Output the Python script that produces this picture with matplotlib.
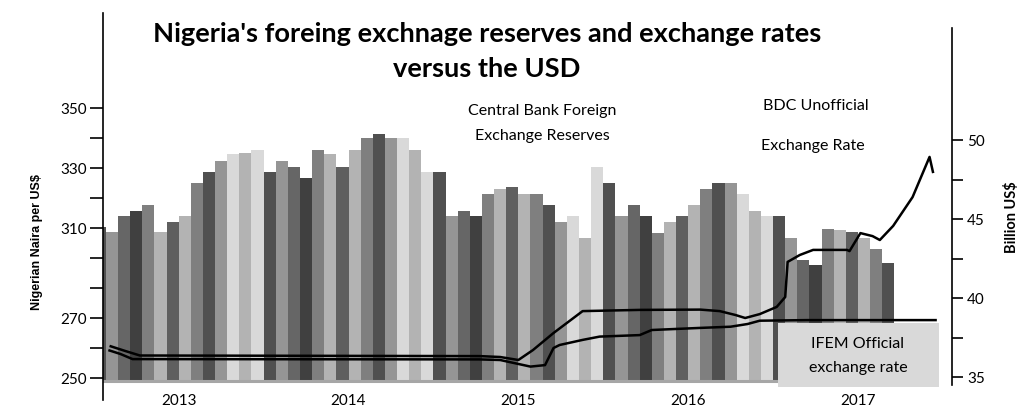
import matplotlib
matplotlib.use("Agg")
import matplotlib.pyplot as plt
from matplotlib.patches import Rectangle

# ---------------- data ----------------
years = ["2013", "2014", "2015", "2016", "2017"]
year_pos = [6.5, 20.5, 34.5, 48.5, 62.5]

# Central Bank foreign exchange reserves (billion US$), one bar per period
reserves = [44.5, 44.2, 45.2, 45.5, 45.9, 44.2, 44.8, 45.2, 47.3, 48.0, 48.7, 49.1, 49.2, 49.4,
            48.0, 48.7, 48.3, 47.6, 49.4, 49.1, 48.3, 49.4, 50.1, 50.4, 50.1, 50.1, 49.4, 48.0,
            48.0, 45.2, 45.5, 45.2, 46.6, 46.9, 47.0, 46.6, 46.6, 45.9, 44.8, 45.2, 43.8, 48.3,
            47.3, 45.2, 45.9, 45.2, 44.1, 44.8, 45.2, 45.9, 46.9, 47.3, 47.3, 46.6, 45.5, 45.2,
            45.2, 43.8, 42.4, 42.1, 44.4, 44.3, 44.2, 43.8, 43.1, 42.2]
bar_colors = ["#505050", "#959595", "#666666", "#404040", "#7f7f7f", "#b3b3b3", "#5f5f5f",
              "#b3b3b3", "#7f7f7f", "#505050", "#959595", "#d9d9d9", "#b3b3b3", "#d9d9d9"]

# BDC unofficial exchange rate (Naira per US$)
bdc_t = [0.8, 2.1, 3.3, 31.3, 33.0, 34.5, 35.7, 37.4, 39.8, 44.5, 49.5, 51.1, 52.4, 53.2, 54.4,
         55.8, 56.5, 56.7, 57.7, 58.8, 61.6, 61.8, 62.7, 63.7, 64.3, 65.4, 67.0, 68.4, 68.7]
bdc_v = [260.7, 259.0, 257.5, 257.3, 257.0, 256.0, 259.3, 265.0, 272.3, 272.7, 272.8, 272.3,
         271.0, 270.0, 271.3, 273.7, 277.0, 288.7, 291.0, 292.7, 292.7, 292.3, 298.3, 297.3,
         296.0, 300.7, 310.3, 323.7, 318.3]

# IFEM official exchange rate (Naira per US$)
ifem_t = [0.7, 1.7, 2.7, 31.3, 33.0, 35.5, 36.7, 37.4, 37.9, 39.8, 41.2, 44.5, 45.5, 49.5,
          52.0, 53.4, 54.4, 58.3, 69.0]
ifem_v = [259.3, 258.0, 256.3, 256.2, 256.0, 253.8, 254.3, 260.0, 261.0, 262.7, 263.8, 264.3,
          266.0, 266.7, 267.1, 268.0, 269.1, 269.3, 269.3]

left_ticks = [250, 260, 270, 280, 290, 300, 310, 320, 330, 340]
left_labels = ["250", "", "270", "", "", "310", "", "330", "", "350"]
right_major = [35, 40, 45, 50]
right_minor = [37.5, 42.5, 47.5]

FONT = "Lato"
plt.rcParams["font.family"] = [FONT, "DejaVu Sans"]

W, H = 1024, 415
fig = plt.figure(figsize=(W / 100, H / 100), dpi=100)
ax_l, ax_r, ax_t, ax_b = 103, 952, 13, 405
ax = fig.add_axes([ax_l / W, 1 - ax_b / H, (ax_r - ax_l) / W, (ax_b - ax_t) / H])
ax2 = ax.twinx()

# left axis (Naira)
ax.set_xlim(0.26, 70.25)
ax.set_ylim(241.0, 371.67)
# right axis (billion US$)
ax2.set_ylim(33.23, 58.04)

# bars
base = 34.81
x = list(range(len(reserves)))
cols = [bar_colors[i % len(bar_colors)] for i in x]
ax2.bar(x, [r - base for r in reserves], bottom=base, width=1.0, color=cols,
        linewidth=0, antialiased=False, zorder=2)

# layering: left axes (lines, box) above bars
ax.set_zorder(ax2.get_zorder() + 1)
ax.patch.set_visible(False)

# grey base line
ax.axhline(249.1, xmin=0, xmax=0.8, color="#a6a6a6", lw=2.2, zorder=1)

# lines
ax.plot(bdc_t, bdc_v, color="black", lw=1.8, solid_capstyle="butt", zorder=4)
ax.plot(ifem_t, ifem_v, color="black", lw=1.8, solid_capstyle="butt", zorder=4)

# IFEM box
ax.add_patch(Rectangle((55.9, 247.0), 13.25, 21.3, facecolor="#d9d9d9", edgecolor="none", zorder=3))
ax.text(62.5, 260.0, "IFEM Official", ha="center", va="baseline", fontsize=11.5, zorder=5)
ax.text(62.5, 252.0, "exchange rate", ha="center", va="baseline", fontsize=11.5, zorder=5)

# spines
for s in ["top", "bottom", "right"]:
    ax.spines[s].set_visible(False)
for s in ["top", "bottom", "left"]:
    ax2.spines[s].set_visible(False)
ax.spines["left"].set_bounds(242.7, 371.67)
ax.spines["left"].set_linewidth(1.2)
ax2.spines["right"].set_bounds(34.49, 57.09)
ax2.spines["right"].set_linewidth(1.2)

ax.set_yticks(left_ticks)
ax.set_yticklabels(left_labels)
ax.tick_params(axis="y", length=9.5, width=1.2, pad=2, labelsize=11, colors="black")

ax2.set_yticks(right_major)
ax2.set_yticks(right_minor, minor=True)
ax2.set_yticklabels([str(v) for v in right_major])
ax2.tick_params(axis="y", which="both", length=8, width=1.2, pad=3, labelsize=11)

ax.set_xticks(year_pos)
ax.set_xticklabels(years)
ax.tick_params(axis="x", length=0, pad=-8, labelsize=11)

# annotations
ax.text(36.5, 337.7, "Central Bank Foreign", ha="center", va="baseline", fontsize=11.5)
ax.text(36.5, 329.3, "Exchange Reserves", ha="center", va="baseline", fontsize=11.5)
ax.text(59.0, 339.3, "BDC Unofficial", ha="center", va="baseline", fontsize=11.5)
ax.text(58.8, 326.0, "Exchange Rate", ha="center", va="baseline", fontsize=11.5)

# titles
fig.text(487 / W, 1 - 42 / H, "Nigeria's foreing exchnage reserves and exchange rates",
         ha="center", va="baseline", fontsize=19.6, fontweight="bold", zorder=3)
fig.text(487 / W, 1 - 77 / H, "versus the USD", ha="center", va="baseline",
         fontsize=19.6, fontweight="bold", zorder=6)
# the second title line's white box clips the first line's descenders
fig.add_artist(Rectangle((140 / W, 1 - 52 / H), 700 / W, 5.0 / H, transform=fig.transFigure,
                         facecolor="white", edgecolor="none", zorder=5))

# axis titles
fig.text(37 / W, 1 - 242 / H, "Nigerian Naira per US$", rotation=90, ha="center", va="center",
         fontsize=9, fontweight="bold", family=["Liberation Sans", "DejaVu Sans"])
fig.text(1012 / W, 1 - 217 / H, "Billion US$", rotation=90, ha="center", va="center",
         fontsize=10.5, fontweight="bold")

fig.savefig("out.png", dpi=100)
